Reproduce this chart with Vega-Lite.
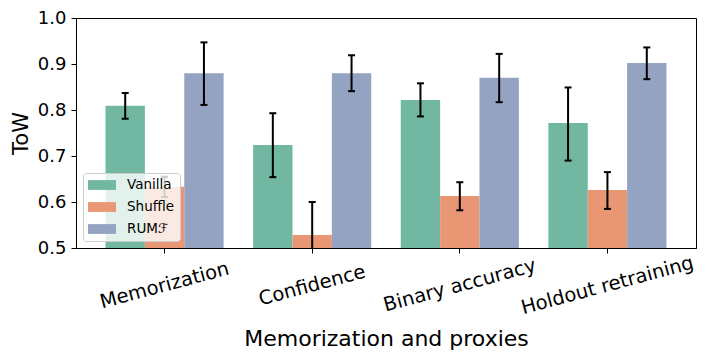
{
  "$schema": "https://vega.github.io/schema/vega-lite/v6.json",
  "width": 620,
  "height": 230,
  "autosize": {"type": "none"},
  "padding": {"left": 76, "top": 18, "right": 11, "bottom": 110},
  "background": "white",
  "config": {
    "font": "DejaVu Sans",
    "view": {"stroke": "black", "strokeWidth": 1},
    "axis": {
      "domainColor": "black",
      "tickColor": "black",
      "labelColor": "black",
      "titleColor": "black",
      "grid": false,
      "labelFont": "DejaVu Sans",
      "titleFont": "DejaVu Sans",
      "titleFontWeight": "normal",
      "tickSize": 5
    },
    "legend": {
      "orient": "bottom-left",
      "offset": 7,
      "fillColor": "rgba(255,255,255,0.8)",
      "strokeColor": "#cccccc",
      "cornerRadius": 3,
      "padding": 5,
      "symbolType": "M-1,-0.7H3V0.7H-1Z",
      "symbolSize": 196,
      "symbolStrokeWidth": 0,
      "symbolOpacity": 1,
      "labelFontSize": 13.5,
      "labelOffset": 25,
      "rowPadding": 8,
      "labelFont": "DejaVu Sans",
      "labelColor": "black"
    }
  },
  "data": {
    "values": [
      {"group": "Memorization", "series": "Vanilla", "value": 0.809, "lo": 0.781, "hi": 0.837},
      {"group": "Memorization", "series": "Shuffle", "value": 0.633, "lo": 0.611, "hi": 0.655},
      {"group": "Memorization", "series": "RUMℱ", "value": 0.880, "lo": 0.811, "hi": 0.947},
      {"group": "Confidence", "series": "Vanilla", "value": 0.724, "lo": 0.654, "hi": 0.793},
      {"group": "Confidence", "series": "Shuffle", "value": 0.528, "lo": 0.456, "hi": 0.600},
      {"group": "Confidence", "series": "RUMℱ", "value": 0.880, "lo": 0.841, "hi": 0.919},
      {"group": "Binary accuracy", "series": "Vanilla", "value": 0.822, "lo": 0.786, "hi": 0.858},
      {"group": "Binary accuracy", "series": "Shuffle", "value": 0.613, "lo": 0.582, "hi": 0.643},
      {"group": "Binary accuracy", "series": "RUMℱ", "value": 0.870, "lo": 0.817, "hi": 0.922},
      {"group": "Holdout retraining", "series": "Vanilla", "value": 0.772, "lo": 0.690, "hi": 0.849},
      {"group": "Holdout retraining", "series": "Shuffle", "value": 0.626, "lo": 0.585, "hi": 0.665},
      {"group": "Holdout retraining", "series": "RUMℱ", "value": 0.902, "lo": 0.867, "hi": 0.936}
    ]
  },
  "encoding": {
    "x": {
      "field": "group",
      "type": "nominal",
      "sort": ["Memorization", "Confidence", "Binary accuracy", "Holdout retraining"],
      "scale": {"paddingInner": 0.2, "paddingOuter": 0.2},
      "axis": {
        "title": "Memorization and proxies",
        "labelAngle": -15,
        "labelAlign": "center",
        "labelBaseline": "middle",
        "labelPadding": 32,
        "labelFontSize": 19.5,
        "titleFontSize": 22,
        "titlePadding": 11,
        "labelOverlap": false,
        "labelBound": false
      }
    },
    "xOffset": {
      "field": "series",
      "type": "nominal",
      "sort": ["Vanilla", "Shuffle", "RUMℱ"],
      "scale": {"paddingInner": 0, "paddingOuter": 0}
    }
  },
  "layer": [
    {
      "mark": {"type": "bar", "clip": true},
      "encoding": {
        "y": {
          "field": "value",
          "type": "quantitative",
          "title": "ToW",
          "scale": {"domain": [0.5, 1.0], "zero": false, "nice": false},
          "axis": {
            "values": [0.5, 0.6, 0.7, 0.8, 0.9, 1.0],
            "format": ".1f",
            "labelFontSize": 18,
            "titleFontSize": 21,
            "labelPadding": 5,
            "titlePadding": 6
          }
        },
        "y2": {"datum": 0.5},
        "color": {
          "field": "series",
          "type": "nominal",
          "scale": {"domain": ["Vanilla", "Shuffle", "RUMℱ"], "range": ["#71b7a1", "#e99675", "#95a3c3"]},
          "legend": {"title": null}
        }
      }
    },
    {
      "mark": {"type": "rule", "clip": true, "color": "black", "strokeWidth": 2},
      "encoding": {
        "y": {"field": "lo", "type": "quantitative", "title": "ToW", "scale": {"domain": [0.5, 1.0], "zero": false, "nice": false}},
        "y2": {"field": "hi"}
      }
    },
    {
      "mark": {"type": "tick", "clip": true, "color": "black", "thickness": 2, "size": 7, "opacity": 1},
      "encoding": {
        "y": {"field": "lo", "type": "quantitative", "title": "ToW", "scale": {"domain": [0.5, 1.0], "zero": false, "nice": false}}
      }
    },
    {
      "mark": {"type": "tick", "clip": true, "color": "black", "thickness": 2, "size": 7, "opacity": 1},
      "encoding": {
        "y": {"field": "hi", "type": "quantitative", "title": "ToW", "scale": {"domain": [0.5, 1.0], "zero": false, "nice": false}}
      }
    }
  ]
}
